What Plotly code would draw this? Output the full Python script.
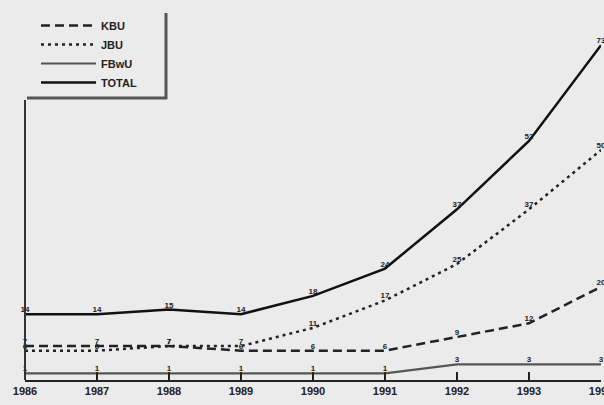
import plotly.graph_objects as go

years = [1986, 1987, 1988, 1989, 1990, 1991, 1992, 1993, 1994]
kbu = [7, 7, 7, 6, 6, 6, 9, 12, 20]
jbu = [6, 6, 7, 7, 11, 17, 25, 37, 50]
fbwu = [1, 1, 1, 1, 1, 1, 3, 3, 3]
total = [14, 14, 15, 14, 18, 24, 37, 52, 73]
series_names = ["KBU", "JBU", "FBwU", "TOTAL"]

W, H = 604, 405
L, R, T, B = 25, 3, 0, 25
pw, ph = W - L - R, H - T - B

def px(x):
    return (x - L) / pw

def py(y):
    return (H - B - y) / ph

bg = "#ebebeb"
font = dict(family="Liberation Sans", size=8, color="#222", weight="bold")

styles = [
    dict(color="#222", width=2.5, dash="9px,5px"),
    dict(color="#222", width=2.5, dash="3px,4px"),
    dict(color="#555", width=2.2, dash="solid"),
    dict(color="#111", width=2.5, dash="solid"),
]

fig = go.Figure()
for name, vals, st in zip(series_names, [kbu, jbu, fbwu, total], styles):
    fig.add_trace(go.Scatter(
        x=years, y=vals, name=name, mode="lines+text",
        line=st, text=[str(v) for v in vals], textposition="top center",
        textfont=font, cliponaxis=False,
    ))

fig.update_layout(
    width=W, height=H,
    margin=dict(l=L, r=R, t=T, b=B, autoexpand=False),
    paper_bgcolor=bg, plot_bgcolor=bg,
    showlegend=True,
    legend=dict(
        x=px(36), y=py(11), xanchor="left", yanchor="top",
        bgcolor="rgba(0,0,0,0)", borderwidth=0,
        font=dict(family="Liberation Sans", size=11, color="#222", weight="bold"),
        itemwidth=55, tracegroupgap=0,
    ),
    xaxis=dict(
        range=[1986, 1994], tickvals=years, ticks="inside", ticklen=8,
        tickcolor="#222", tickwidth=1.5, automargin=False, ticklabeloverflow="allow",
        showline=True, linecolor="#222", linewidth=2, showgrid=False, zeroline=False,
        tickfont=dict(family="Liberation Sans", size=11, color="#222", weight="bold"),
    ),
    yaxis=dict(range=[-0.44, 82.9], showticklabels=False, showgrid=False,
               zeroline=False, showline=False, ticks="", automargin=False),
)

# partial vertical axis line and legend shadow
fig.add_shape(type="line", xref="paper", yref="paper", x0=0, x1=0,
              y0=0, y1=py(100), line=dict(color="#333", width=2))
fig.add_shape(type="line", xref="paper", yref="paper", x0=px(27), x1=px(167),
              y0=py(98), y1=py(98), line=dict(color="#555", width=3))
fig.add_shape(type="line", xref="paper", yref="paper", x0=px(166), x1=px(166),
              y0=py(13), y1=py(99), line=dict(color="#555", width=3))

fig.write_html("out.html", config={"displayModeBar": False},
               post_script="document.body.style.margin='0';document.body.style.overflow='hidden';")
